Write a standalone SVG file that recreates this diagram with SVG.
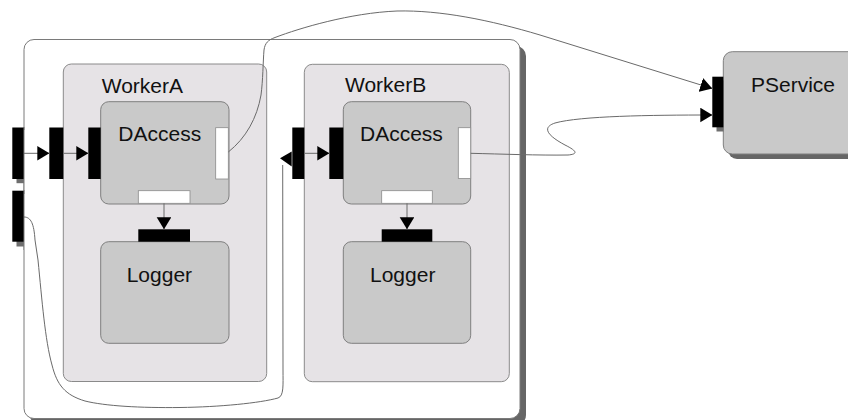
<svg xmlns="http://www.w3.org/2000/svg" width="848" height="420" viewBox="0 0 848 420">
  <defs>
    <style>
      .shadow { fill: #666666; stroke: none; }
      .outer { fill: #ffffff; stroke: #7a7a7a; stroke-width: 1; }
      .worker { fill: #e6e3e6; stroke: #8a8a8a; stroke-width: 1; }
      .comp { fill: #c9c9c9; stroke: #7f7f7f; stroke-width: 1; }
      .port { fill: #000000; stroke: none; }
      .wport { fill: #ffffff; stroke: #8a8a8a; stroke-width: 0.8; }
      .pshadow { fill: #6e6e6e; stroke: none; }
      .label { font-family: "Liberation Sans", Arial, sans-serif; font-size: 21px; fill: #111111; }
      .conn { fill: none; stroke: #6a6a6a; stroke-width: 1; }
      .arr { fill: #000000; stroke: none; }
    </style>
    <marker id="ah" markerWidth="12" markerHeight="15" refX="12" refY="7.3" orient="auto" markerUnits="userSpaceOnUse">
      <polygon points="0,0 12,7.3 0,14.6" fill="#000000"/>
    </marker>
  </defs>

  <!-- outer container -->
  <g id="container">
    <rect class="shadow" x="30" y="46" width="496" height="379" rx="10"/>
    <rect class="outer" x="24" y="39.5" width="496" height="379" rx="10"/>
  </g>

  <!-- outer ports -->
  <g id="port-in1">
    <rect class="pshadow" x="16.5" y="131.5" width="11.7" height="51.7"/>
    <rect class="outer" x="24" y="130" width="6" height="60" style="stroke:none"/>
    <rect class="port" x="12.3" y="127.5" width="11.7" height="51.5"/>
  </g>
  <g id="port-in2">
    <rect class="pshadow" x="16.5" y="195" width="11.7" height="51.5"/>
    <rect class="outer" x="24" y="194" width="6" height="56" style="stroke:none"/>
    <rect class="port" x="12.3" y="190.7" width="11.7" height="51"/>
  </g>
  <line x1="24" y1="127" x2="24" y2="250" class="outer" style="fill:none"/>

  <!-- WorkerA -->
  <g id="workerA">
    <rect class="worker" x="63.3" y="64" width="203.4" height="317.5" rx="8"/>
    <text class="label" x="101.7" y="92.5">WorkerA</text>
    <rect class="port" x="49.3" y="127.5" width="14" height="51.5"/>
  </g>

  <!-- WorkerB -->
  <g id="workerB">
    <rect class="worker" x="304.3" y="64.3" width="205" height="317.4" rx="8"/>
    <text class="label" x="345" y="92">WorkerB</text>
    <rect class="port" x="292.3" y="127.5" width="12" height="51.5"/>
  </g>

  <!-- DAccess A -->
  <g id="daccessA">
    <rect class="comp" x="100.7" y="101.7" width="128.3" height="102.3" rx="8"/>
    <text class="label" x="118.3" y="140.7">DAccess</text>
    <rect class="port" x="88.3" y="127.5" width="12.4" height="51.5"/>
    <rect class="wport" x="215.7" y="127.7" width="12.6" height="51.3"/>
    <rect class="wport" x="138.3" y="190.7" width="51.7" height="12.6"/>
  </g>

  <!-- Logger A -->
  <g id="loggerA">
    <rect class="comp" x="100.7" y="241.7" width="128.3" height="101.6" rx="8"/>
    <text class="label" x="126.7" y="282.3">Logger</text>
    <rect class="port" x="138.3" y="229.3" width="51.7" height="12.4"/>
  </g>

  <!-- DAccess B -->
  <g id="daccessB">
    <rect class="comp" x="343.3" y="101.7" width="127.4" height="102.3" rx="8"/>
    <text class="label" x="360" y="140.7">DAccess</text>
    <rect class="port" x="329.3" y="127.5" width="14" height="51.5"/>
    <rect class="wport" x="458.3" y="127.7" width="12.4" height="50.8"/>
    <rect class="wport" x="381.7" y="190.7" width="50.6" height="12.6"/>
  </g>

  <!-- Logger B -->
  <g id="loggerB">
    <rect class="comp" x="343.3" y="241.7" width="127.4" height="101.6" rx="8"/>
    <text class="label" x="370" y="282.3">Logger</text>
    <rect class="port" x="381.7" y="229.3" width="50.6" height="12.4"/>
  </g>

  <!-- PService -->
  <g id="pservice">
    <rect class="shadow" x="728" y="57" width="140" height="102" rx="9"/>
    <rect class="comp" x="723.3" y="51.7" width="140" height="102.3" rx="9"/>
    <text class="label" x="751" y="92.3">PService</text>
    <rect class="pshadow" x="716.5" y="80.5" width="7" height="51"/>
    <rect class="port" x="712.3" y="76.7" width="11" height="50.6"/>
  </g>

  <!-- connectors -->
  <g id="connectors">
    <line class="conn" x1="24" y1="153.3" x2="49.3" y2="153.3" marker-end="url(#ah)"/>
    <line class="conn" x1="63.3" y1="153.3" x2="88.3" y2="153.3" marker-end="url(#ah)"/>
    <line class="conn" x1="304.3" y1="153.3" x2="329.3" y2="153.3" marker-end="url(#ah)"/>
    <line class="conn" x1="164" y1="203.3" x2="164" y2="229.3" marker-end="url(#ah)"/>
    <line class="conn" x1="407" y1="203.3" x2="407" y2="229.3" marker-end="url(#ah)"/>
    <path class="conn" d="M228.3,152 C246,138 257,118 261,95 C263,80 263,62 264,50 C265,43 268,40 275,37.5 C300,28 350,13 397,11 C440,10 490,20 540,35 L712.3,88.5" marker-end="url(#ah)"/>
    <path class="conn" d="M470.7,153.3 C500,154 540,155.5 568,155 C580,154 575,150 565,145 C550,137 540,128 555,123 C580,116 650,115 712.3,115" marker-end="url(#ah)"/>
    <path class="conn" d="M24,217 C31,217 34,224 35,240 L38,260 C42,300 45,340 52,365 C57,385 65,395 85,401 C105,406 140,408 180,407.5 C220,407 260,403 278,398 C284,396 283,385 283,370 L282.7,165"/>
    <polygon class="arr" points="280,158.3 291.7,151.5 291.7,166.5"/>
  </g>
</svg>
